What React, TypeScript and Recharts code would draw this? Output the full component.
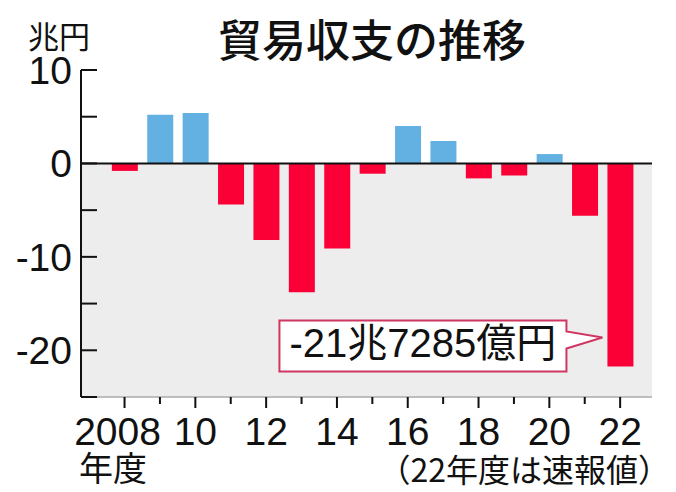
import { BarChart, Bar, XAxis, YAxis, Cell, ReferenceArea, ReferenceLine, LabelList } from "recharts";

// 貿易収支（年度、兆円）
const years = [2008, 2009, 2010, 2011, 2012, 2013, 2014, 2015, 2016, 2017, 2018, 2019, 2020, 2021, 2022];
const balance = [-0.8, 5.2, 5.4, -4.4, -8.2, -13.8, -9.1, -1.1, 4.0, 2.4, -1.6, -1.3, 1.0, -5.6, -21.7285];

const yTicks = [10, 5, 0, -5, -10, -15, -20, -25];
const yLabeled = [10, 0, -10, -20];
const xLabels: Record<number, string> = {
    2008: "2008",
    2010: "10",
    2012: "12",
    2014: "14",
    2016: "16",
    2018: "18",
    2020: "20",
    2022: "22",
};
const calloutText = "-21兆7285億円";

const data = years.map((year, i) => ({ year, value: balance[i] }));

const NUM_FONT = "'Liberation Sans', 'Noto Sans CJK JP', sans-serif";
const JP_FONT = "'Noto Sans CJK JP', sans-serif";
const RED = "#fa0036";
const BLUE = "#63b1e3";

function YTick({ x, y, payload }: any) {
    const v = payload.value;
    return (
        <g>
            <line x1={x} x2={x + 16} y1={y} y2={y} stroke="#111" strokeWidth={2} />
            {yLabeled.includes(v) && (
                <text x={x - 9} y={y + 14} textAnchor="end" fontSize={39} fontFamily={NUM_FONT} fill="#111">
                    {v}
                </text>
            )}
        </g>
    );
}

function XTick({ x, y, payload }: any) {
    const label = xLabels[payload.value];
    return (
        <g>
            <line x1={x} x2={x} y1={y} y2={y + (label ? 11 : 7)} stroke="#111" strokeWidth={2} />
            {label && (
                <text
                    x={x + (label.length > 2 ? -7 : 0)}
                    y={y + 48}
                    textAnchor="middle"
                    fontSize={39}
                    fontFamily={NUM_FONT}
                    fill="#111"
                >
                    {label}
                </text>
            )}
        </g>
    );
}

function Callout(props: any) {
    if (props.index !== data.length - 1) return null;
    const vb = props.viewBox ?? props;
    const { x, y, height } = vb;
    const bottom = Math.max(y, y + height);
    const tipX = x - 5;
    const tipY = bottom - 29;
    const right = tipX - 36;
    const left = right - 287;
    const top = tipY - 17;
    const boxBottom = top + 51;
    const d = `M${left},${top} H${right} V${tipY - 6} L${tipX},${tipY} L${right},${tipY + 11} V${boxBottom} H${left} Z`;
    return (
        <g>
            <path d={d} fill="#fff" stroke="#cf3660" strokeWidth={2} />
            <text x={(left + right) / 2} y={top + 37} textAnchor="middle" fontSize={40} fontFamily={NUM_FONT} fill="#111">
                {calloutText}
            </text>
        </g>
    );
}

export default function App() {
    return (
        <div style={{ position: "absolute", left: 0, top: 0, width: 676, height: 492, background: "#fff" }}>
            <BarChart
                width={676}
                height={492}
                data={data}
                margin={{ top: 70, right: 24, bottom: 0, left: 0 }}
                barSize={26}
            >
                <ReferenceArea y1={-25} y2={0} fill="#ededed" fillOpacity={1} stroke="none" />
                <XAxis
                    dataKey="year"
                    type="number"
                    domain={[2006.77, 2022.9]}
                    ticks={years}
                    interval={0}
                    allowDataOverflow
                    tickSize={0}
                    tickMargin={0}
                    tick={<XTick />}
                    tickLine={false}
                    axisLine={{ stroke: "#aaa", strokeWidth: 1.5 }}
                    height={95}
                />
                <YAxis
                    type="number"
                    domain={[-25, 10]}
                    ticks={yTicks}
                    interval={0}
                    width={81}
                    tickSize={0}
                    tickMargin={0}
                    tick={<YTick />}
                    tickLine={false}
                    axisLine={{ stroke: "#111", strokeWidth: 2 }}
                    allowDataOverflow
                />
                <Bar dataKey="value" isAnimationActive={false}>
                    {data.map((d) => (
                        <Cell key={d.year} fill={d.value >= 0 ? BLUE : RED} />
                    ))}
                    <LabelList dataKey="value" content={<Callout />} />
                </Bar>
                <ReferenceLine y={0} stroke="#111" strokeWidth={2} />
            </BarChart>
            <svg width={676} height={492} style={{ position: "absolute", left: 0, top: 0, pointerEvents: "none" }}>
                <text x={372} y={57} textAnchor="middle" fontSize={44} fontWeight={500} fontFamily={JP_FONT} fill="#111">
                    貿易収支の推移
                </text>
                <text x={28} y={48} fontSize={31} fontFamily={JP_FONT} fill="#111">
                    兆円
                </text>
                <text x={79} y={481} fontSize={34} fontFamily={JP_FONT} fill="#111">
                    年度
                </text>
                <text x={670} y={482} textAnchor="end" fontSize={32} fontFamily={JP_FONT} fill="#111">
                    （22年度は速報値）
                </text>
            </svg>
        </div>
    );
}
